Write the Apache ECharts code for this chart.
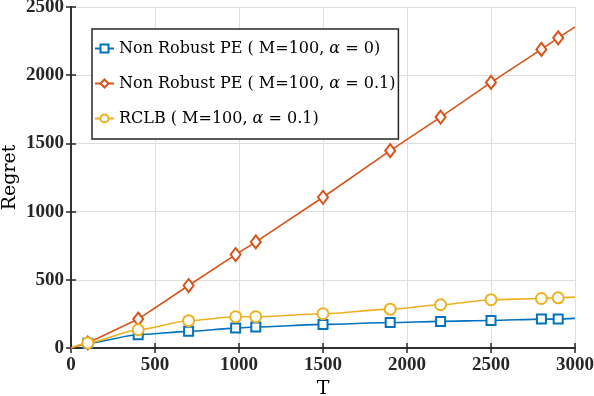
<!DOCTYPE html>
<html>
<head>
<meta charset="utf-8">
<script src="https://cdn.jsdelivr.net/npm/echarts@6/dist/echarts.min.js"></script>
<style>
html, body { margin: 0; padding: 0; background: #fff; }
#chart { width: 594px; height: 396px; }
</style>
</head>
<body>
<div id="chart"></div>
<script>
// horizon T (first and last points carry no marker)
var tVals = [0, 100, 400, 700, 980, 1100, 1500, 1900, 2200, 2500, 2800, 2900, 3000];
var peClean = [0, 35, 97, 122, 146, 154, 173, 187, 195, 202, 212, 212, 217];
var peCorrupt = [0, 37, 212, 458, 685, 778, 1105, 1447, 1693, 1947, 2189, 2274, 2354];
var rclb = [0, 37, 134, 200, 229, 229, 251, 285, 317, 354, 363, 368, 373];
var xTicks = [0, 500, 1000, 1500, 2000, 2500, 3000];
var yTicks = [0, 500, 1000, 1500, 2000, 2500];
var names = ['Non Robust PE ( M=100, α = 0)', 'Non Robust PE ( M=100, α = 0.1)', 'RCLB ( M=100, α = 0.1)'];

var axisCol = '#262626';
var serif = 'DejaVu Serif';

function pts(ys) {
    return tVals.map(function (t, i) {
        if (i === 0 || i === tVals.length - 1) {
            return { value: [t, ys[i]], symbol: 'none' };
        }
        return [t, ys[i]];
    });
}

function mkSeries(name, ys, color, symbol, size, smooth) {
    return {
        name: name,
        type: 'line',
        data: pts(ys),
        smooth: smooth,
        smoothMonotone: 'x',
        symbol: symbol,
        symbolSize: size,
        showAllSymbol: true,
        lineStyle: { color: color, width: 1.6 },
        itemStyle: { color: color, borderWidth: 1.6 },
        emphasis: { disabled: true },
        animation: false
    };
}

var chart = echarts.init(document.getElementById('chart'));
var option = {
    backgroundColor: '#fff',
    grid: { left: 71, right: 19, top: 7, bottom: 48, outerBoundsMode: 'none', containLabel: false },
    legend: {
        orient: 'vertical',
        left: 92,
        top: 29,
        padding: [10, 3, 11, 2],
        itemGap: 16,
        itemWidth: 19,
        itemHeight: 10,
        borderColor: axisCol,
        borderWidth: 1.5,
        backgroundColor: '#fff',
        data: names,
        formatter: function (n) {
            var p = n.split('α');
            return '{n|' + p[0] + '}{i|α}{n|' + p[1] + '}';
        },
        textStyle: {
            fontFamily: serif, fontSize: 16, color: '#000', lineHeight: 19,
            rich: {
                n: { fontFamily: serif, fontSize: 16, color: '#000' },
                i: { fontFamily: serif, fontSize: 16, color: '#000', fontStyle: 'italic' }
            }
        }
    },
    xAxis: [{
        type: 'value', min: 0, max: 3000, interval: 500,
        name: 'T', nameLocation: 'middle', nameGap: 32, nameMoveOverlap: false,
        nameTextStyle: { fontFamily: serif, fontSize: 19, color: '#000' },
        axisLine: { lineStyle: { color: axisCol, width: 1.5 } },
        axisTick: { inside: true, length: 5, lineStyle: { color: axisCol, width: 1.5 } },
        axisLabel: {
            margin: 8, color: axisCol, fontFamily: 'Liberation Serif', fontWeight: 'bold', fontSize: 19,
            formatter: function (v) { return xTicks.indexOf(v) >= 0 ? String(v) : ''; }
        },
        splitLine: { lineStyle: { color: '#dedede', width: 1 } }
    }, {
        type: 'value', position: 'top', min: 0, max: 3000, interval: 500,
        axisLine: { lineStyle: { color: axisCol, width: 1.5 } },
        axisTick: { inside: true, length: 5, lineStyle: { color: axisCol, width: 1.5 } },
        axisLabel: { show: false },
        splitLine: { show: false }
    }],
    yAxis: [{
        type: 'value', min: 0, max: 2500, interval: 500,
        name: 'Regret', nameLocation: 'middle', nameGap: 51, nameMoveOverlap: false,
        nameTextStyle: { fontFamily: serif, fontSize: 19, color: '#000' },
        axisLine: { show: true, lineStyle: { color: axisCol, width: 1.5 } },
        axisTick: { show: true, inside: true, length: 5, lineStyle: { color: axisCol, width: 1.5 } },
        axisLabel: {
            margin: 7, color: axisCol, fontFamily: 'Liberation Serif', fontWeight: 'bold', fontSize: 19,
            formatter: function (v) { return yTicks.indexOf(v) >= 0 ? String(v) : ''; }
        },
        splitLine: { lineStyle: { color: '#dedede', width: 1 } }
    }, {
        type: 'value', position: 'right', min: 0, max: 2500, interval: 500,
        axisLine: { show: true, lineStyle: { color: axisCol, width: 1.5 } },
        axisTick: { show: true, inside: true, length: 5, lineStyle: { color: axisCol, width: 1.5 } },
        axisLabel: { show: false },
        splitLine: { show: false }
    }],
    series: [
        mkSeries(names[0], peClean, '#0072BD', 'emptyRect', 9, 0.25),
        mkSeries(names[1], peCorrupt, '#D95319', 'emptyDiamond', [10, 13], false),
        mkSeries(names[2], rclb, '#EDB120', 'emptyCircle', 11, 0.25)
    ]
};
chart.setOption(option);
</script>
</body>
</html>
